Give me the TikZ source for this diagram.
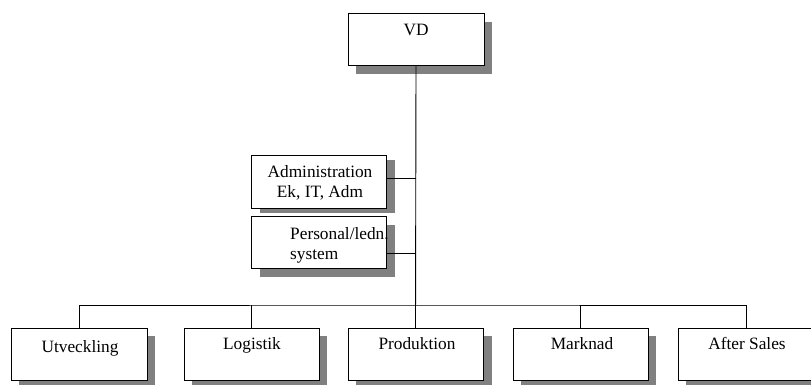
\documentclass[tikz,border=0pt]{standalone}
\usepackage{fontspec}
\setmainfont{Liberation Serif}
\usetikzlibrary{calc}
\definecolor{shadowgray}{HTML}{808080}
\tikzset{
  orgbox/.style={draw=black, line width=1pt, fill=white, minimum width=136pt, minimum height=52pt, inner sep=0pt, outer sep=0pt, anchor=north west},
  lbl/.style={font=\fontsize{17.3}{20}\selectfont, inner sep=0pt, anchor=base},
  conn/.style={draw=black, line width=0.9pt},
}
\begin{document}
\begin{tikzpicture}[x=1pt,y=-1pt]
\clip (0,0) rectangle (811,384);
\fill[white] (0,0) rectangle (811,384);
% shadows and boxes
\fill[shadowgray] (356,22) rectangle (492,74);
\node[orgbox] (vd) at (348,13) {};
\fill[shadowgray] (260,160) rectangle (395,213);
\node[orgbox, minimum width=135pt, minimum height=53pt] (adm) at (251,155) {};
\fill[shadowgray] (260,225) rectangle (395,277);
\node[orgbox, minimum width=135pt] (per) at (251,216) {};
\fill[shadowgray] (19,336) rectangle (155,388);
\node[orgbox] (utv) at (11,328) {};
\fill[shadowgray] (192,336) rectangle (327,388);
\node[orgbox, minimum width=135pt] (log) at (184,328) {};
\fill[shadowgray] (356,336) rectangle (492,388);
\node[orgbox, minimum width=135pt] (pro) at (348,328) {};
\fill[shadowgray] (521,336) rectangle (656,388);
\node[orgbox, minimum width=135pt] (mar) at (513,328) {};
\fill[shadowgray] (686,336) rectangle (822,388);
\node[orgbox] (aft) at (678,328) {};
% texts
\node[lbl] (vdt) at (416,35) {VD};
\node[lbl, align=center] (admt) at (320,197) {Administration\\Ek, IT, Adm};
\node[lbl, align=left, anchor=base west] (pert) at (290,259) {Personal/ledn.\\system};
\node[lbl] (utvt) at (80,352) {Utveckling};
\node[lbl] (logt) at (252,349) {Logistik};
\node[lbl] (prot) at (417,349) {Produktion};
\node[lbl] (mart) at (582,349) {Marknad};
\node[lbl] (aftt) at (747,349) {After Sales};
% connectors
\coordinate (bar) at (416,305);
\draw[conn] (vd.south) -- (pro.north);
\draw[conn] (utv.north) |- (bar) -| (aft.north);
\draw[conn] (log.north) -- (log.north |- bar);
\draw[conn] (mar.north) -- (mar.north |- bar);
\coordinate (a1) at ([yshift=-23pt]adm.north east);
\coordinate (p1) at ([yshift=-37pt]per.north east);
\draw[conn] (a1) -- (a1 -| vd.south);
\draw[conn] (p1) -- (p1 -| vd.south);
\end{tikzpicture}
\end{document}
